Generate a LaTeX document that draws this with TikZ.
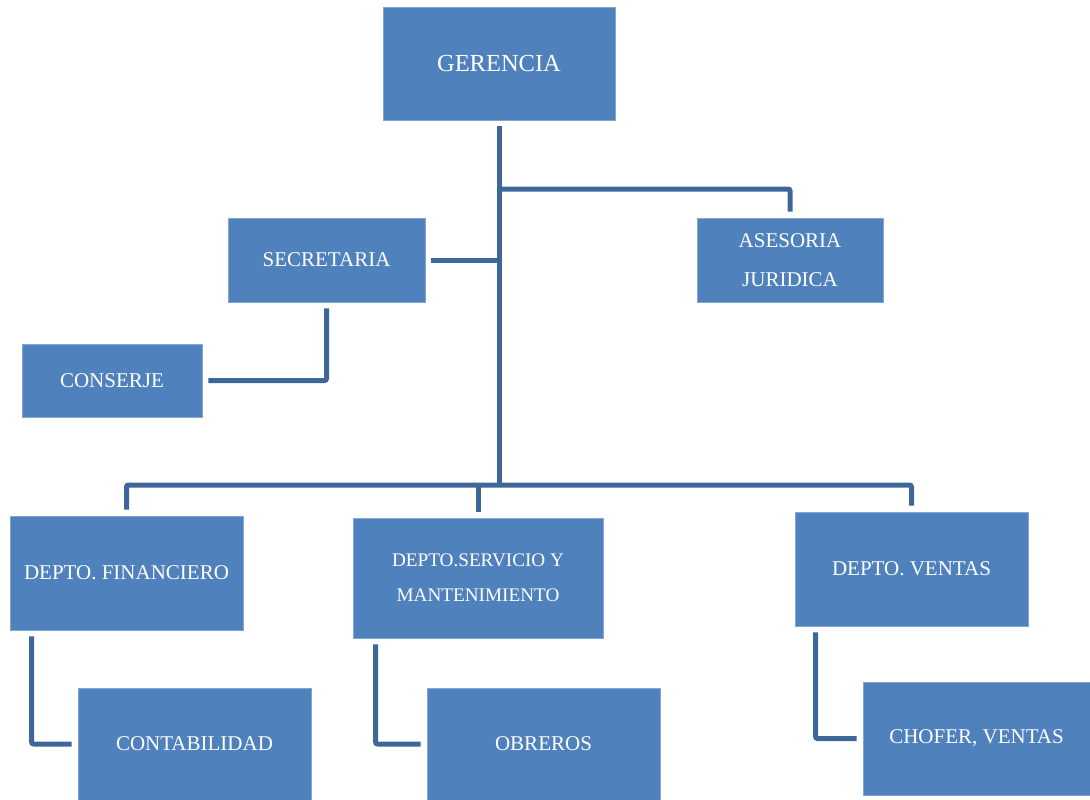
\documentclass[tikz,border=0pt]{standalone}
\usepackage{fontspec}
\setmainfont{Liberation Serif}
\definecolor{boxblue}{HTML}{4F81BD}
\definecolor{lineblue}{HTML}{3E6698}

\begin{document}
\begin{tikzpicture}[x=1pt,y=-1pt,
					thick,
					box/.style={rectangle,fill=boxblue,draw=boxblue!70!white,line width=0.8pt,
						text=white,inner sep=0pt,align=center,
						font=\fontsize{21}{39}\selectfont},
					conn/.style={draw=lineblue,line width=5pt,rounded corners=2pt},
					gap/.style={shorten <=6pt,shorten >=6pt}]

  \useasboundingbox (0,0) rectangle (1090,800);

  \node[box,minimum width=232pt,minimum height=113pt,font=\fontsize{24.5}{30}\selectfont] (ger) at (499,63.5) {GERENCIA};
  \node[box,minimum width=197pt,minimum height=84pt] (sec) at (326.5,260) {SECRETARIA};
  \node[box,minimum width=186pt,minimum height=84pt] (ase) at (790,260) {ASESORIA\\JURIDICA};
  \node[box,minimum width=180pt,minimum height=73pt] (cons) at (112,380.5) {CONSERJE};
  \node[box,minimum width=233pt,minimum height=114pt] (fin) at (126.5,573) {DEPTO. FINANCIERO};
  \node[box,minimum width=250pt,minimum height=120pt,font=\fontsize{19.2}{35}\selectfont] (serv) at (478,578) {DEPTO.SERVICIO Y\\MANTENIMIENTO};
  \node[box,minimum width=233pt,minimum height=114pt] (vent) at (911.5,569) {DEPTO. VENTAS};
  \node[box,minimum width=233pt,minimum height=112pt] (cont) at (194.5,744) {CONTABILIDAD};
  \node[box,minimum width=233pt,minimum height=112pt] (obr) at (543.5,744) {OBREROS};
  \node[box,minimum width=227pt,minimum height=113pt] (chof) at (976.5,738.5) {CHOFER, VENTAS};

  \coordinate (bus) at (499,485);

  % tronco central
  \path[conn,shorten <=6pt] (ger.south) -- (bus);
  \path[conn,shorten >=6pt] (ger.south |- 0,189) -| (ase.north);
  \path[conn,shorten <=6pt] (sec.east) -- (sec.east -| bus);
  \path[conn,gap] (sec.south) |- (cons.east);

  % departamentos
  \path[conn,gap] (fin.north) |- (vent.north |- bus) -- (vent.north);
  \path[conn,shorten <=6pt] (serv.north) -- (serv.north |- bus);

  \path[conn,gap] ([xshift=22pt]fin.south west) |- (cont.west);
  \path[conn,gap] ([xshift=23pt]serv.south west) |- (obr.west);
  \path[conn,gap] ([xshift=21pt]vent.south west) |- (chof.west);
\end{tikzpicture}
\end{document}
